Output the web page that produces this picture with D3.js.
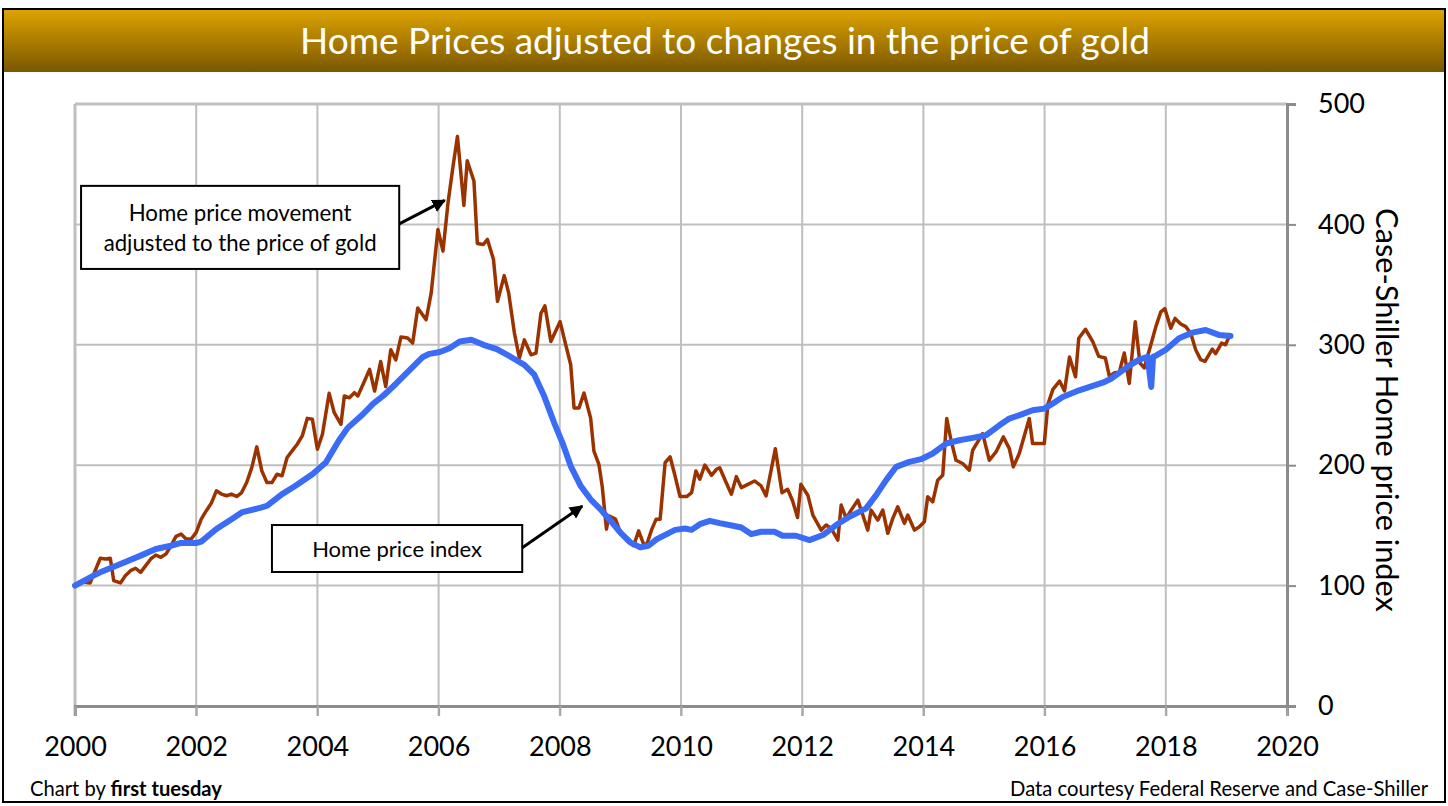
<!DOCTYPE html>
<html><head><meta charset="utf-8">
<script src="https://cdn.jsdelivr.net/npm/d3@7"></script>
<style>html,body{margin:0;padding:0;background:#fff;}svg{display:block;}</style>
</head><body>
<svg id="chart" width="1448" height="806"></svg>
<script>
// ---------- DATA ----------
const titleText = "Home Prices adjusted to changes in the price of gold";
const yAxisTitle = "Case-Shiller Home price index";
const creditLeftPlain = "Chart by ";
const creditLeftBold = "first tuesday";
const creditRight = "Data courtesy Federal Reserve and Case-Shiller";
const xTickYears = [2000, 2002, 2004, 2006, 2008, 2010, 2012, 2014, 2016, 2018, 2020];
const yTickValues = [0, 100, 200, 300, 400, 500];

// Home price movement adjusted to the price of gold (date in decimal years, value)
const goldAdjDates = [2000.0,2000.083,2000.25,2000.417,2000.5,2000.583,2000.639,2000.75,2000.833,2000.917,2001.0,2001.083,2001.167,2001.25,2001.333,2001.417,2001.5,2001.583,2001.667,2001.75,2001.833,2001.917,2002.0,2002.083,2002.167,2002.25,2002.333,2002.417,2002.5,2002.583,2002.667,2002.75,2002.833,2002.917,2003.0,2003.083,2003.167,2003.25,2003.333,2003.417,2003.5,2003.583,2003.667,2003.75,2003.833,2003.917,2004.0,2004.083,2004.194,2004.278,2004.389,2004.444,2004.528,2004.611,2004.667,2004.778,2004.861,2004.944,
2005.044,2005.128,2005.211,2005.294,2005.378,2005.489,2005.572,2005.656,2005.794,2005.878,2005.989,2006.072,2006.156,2006.239,2006.311,2006.417,2006.472,2006.583,2006.639,2006.739,2006.806,2006.906,2006.972,2007.083,2007.156,
2007.251,2007.333,2007.415,2007.525,2007.607,2007.689,2007.754,2007.852,2008.005,2008.098,2008.18,2008.235,2008.317,2008.399,2008.508,2008.563,2008.645,2008.699,2008.77,2008.809,2008.918,2009.0,2009.109,2009.219,2009.301,2009.383,2009.437,2009.519,2009.59,2009.656,2009.738,2009.82,2009.902,2009.984,2010.093,2010.175,2010.246,2010.311,2010.393,2010.503,2010.585,2010.639,2010.721,2010.831,2010.913,2010.995,2011.104,2011.213,2011.322,2011.404,2011.557,2011.667,2011.76,2011.842,2011.923,2011.978,
2012.093,2012.176,2012.313,2012.396,2012.478,2012.588,2012.643,2012.725,2012.808,2012.918,2013.0,2013.082,2013.137,2013.247,2013.33,2013.412,2013.495,2013.577,2013.687,2013.742,2013.852,2013.934,2014.016,2014.071,2014.154,2014.236,2014.319,2014.385,2014.456,2014.538,2014.648,2014.758,2014.813,2014.896,2014.978,2015.088,2015.198,2015.319,2015.418,2015.484,2015.582,2015.747,2015.802,2015.995,
2016.055,2016.137,2016.247,2016.329,2016.411,2016.51,2016.564,2016.674,2016.795,2016.893,2017.003,2017.068,2017.151,2017.233,2017.315,2017.397,2017.496,2017.573,2017.644,2017.699,2017.753,2017.836,2017.918,2017.984,2018.082,2018.153,2018.247,2018.329,2018.411,2018.493,2018.575,2018.647,2018.767,2018.822,2018.921,2018.986,2019.068];
const goldAdjValues = [100,103.3,102.2,122.7,122.1,122.7,104.1,102.2,108.3,112.4,114.4,111,116.6,122.1,125.4,123.5,126.2,133.1,140.9,142.8,138.7,138.7,144.2,155.2,162.2,168.5,178.7,176,174.6,176,174,177.3,185.6,198,215.2,195.3,185.6,185.6,192.5,191.2,206.4,211.9,217.4,224.3,238.9,238.1,213.3,225.7,259.7,243.6,234,257.5,256,260.2,257.5,270,279.6,261.6,
286.1,265.3,295.8,287.5,306.4,305.6,301.4,330.6,320.8,343.1,395.8,377.8,418.1,448.6,473.1,415.8,452.8,436.1,384.2,383.3,387.5,370.8,336.1,357.5,343.1,
309.7,289,304.1,291.7,293.1,326.2,332.3,302.8,319.3,300,283.4,247.6,247.6,260,239.3,211.7,200.7,182.8,146.9,157.9,155.2,144.1,137.2,133.1,145.5,134.5,134.5,146.9,155.2,155.2,202.1,207,191,173.9,173.9,177.2,195.2,188.3,200.1,191.6,196.6,197.9,188.3,175.9,190.5,181.4,184.1,186.9,182.8,174.5,213.7,177.2,180,170.3,156.6,184.1,
175.1,158.6,146.1,150.3,147.5,137.8,166.9,155.8,162.7,171,158.6,146.1,162.7,154.4,162.7,143.4,155.8,165.5,151.7,158.6,146.1,148.9,153,173.8,169.6,187.6,191.7,238.7,220.7,204.1,201.4,195.9,212.4,219.3,226.2,204.1,211,223.5,213.8,198.6,209.7,238.7,218,218,
250.7,263,269.9,261.6,289.9,273.4,305.5,312.9,302.7,290.4,289,274,276.7,277.3,293.2,267.9,319.2,284.9,280.8,290.4,300,315.1,327.4,330.1,313.7,321.9,317.3,315.1,309.6,295.9,287.7,286.3,296.4,292.6,301.4,300,309.6];

// Case-Shiller home price index (Jan 2000 = 100)
const hpiDates = [2000.0,2000.306,2000.417,2000.75,2001.083,2001.333,2001.583,2001.75,2002.0,2002.083,2002.333,2002.583,2002.75,2003.083,2003.167,2003.417,2003.639,2003.917,2004.139,2004.36,2004.5,2004.75,2004.917,2005.083,
2005.31,2005.5,2005.74,2005.85,2006.02,2006.18,2006.35,2006.54,2006.74,2006.96,2007.18,
2007.415,2007.579,2007.743,2007.907,2008.044,2008.18,2008.344,2008.508,2008.672,2008.836,2009.0,2009.164,2009.328,2009.464,2009.601,2009.765,2009.902,2010.066,2010.175,2010.311,2010.475,2010.639,2010.858,2010.995,2011.158,2011.322,2011.541,2011.678,2011.896,
2012.121,2012.341,2012.56,2012.78,2013.055,2013.22,2013.385,2013.55,2013.769,2013.962,2014.154,2014.374,2014.593,2014.813,2015.033,2015.253,2015.418,2015.61,2015.802,2015.995,2016.132,2016.297,2016.571,
2016.795,2016.959,2017.096,2017.233,2017.397,2017.562,2017.70,2017.76,2017.79,2017.836,2018.0,2018.219,2018.438,2018.658,2018.877,2019.068];
const hpiValues = [100,108.3,111,118,124.9,130.4,133.1,135.4,135.4,136.5,147,155.2,160.8,164.9,166.3,176,182.9,192.5,202.2,221,231,242.3,251,257.5,
268.3,278,289.9,292.5,294,297.2,302.8,304.2,300,296.4,290.3,
283.4,275.2,257.2,235.2,218.6,199.3,182.8,171.7,163.4,153.8,144.1,135.9,131.7,133.1,138.6,142.8,146.3,147.4,146.3,151,153.8,151.9,149.7,148.3,142.8,144.7,144.7,141.4,141.4,
137.8,142,150.3,157.2,164.1,175.1,187.6,198.6,202.8,205,209.7,218,220.7,222.7,224.9,233.1,238.7,242,245.6,247,251.1,256.6,262.2,
265.8,268.5,271.8,276.7,282.7,287.7,290,265,290,291,295.9,305.5,310.1,312.3,308.2,307.4];

// Annotation call-outs
const noteGoldLines = ["Home price movement", "adjusted to the price of gold"];
const noteHpiLines = ["Home price index"];

// ---------- LAYOUT ----------
const W = 1448, H = 806;
const plot = {left: 75, right: 1287, top: 104, bottom: 706};
const notes = [
  {lines: noteGoldLines, x0: 2000.1, x1: 2005.35, y0: 432, y1: 363, widths: [223, 273],
   arrowFrom: [2005.35, 400.5], arrowTo: [2006.1, 420]},
  {lines: noteHpiLines, x0: 2003.25, x1: 2007.38, y0: 150.3, y1: 111.3, widths: [170],
   arrowFrom: [2007.38, 131.5], arrowTo: [2008.37, 166]}
];
const FONT = "Lato, 'Open Sans', 'Liberation Sans', sans-serif";

const svg = d3.select("#chart");
const defs = svg.append("defs");
const grad = defs.append("linearGradient").attr("id", "titleGrad")
  .attr("x1", 0).attr("y1", 0).attr("x2", 0).attr("y2", 1);
grad.append("stop").attr("offset", "0%").attr("stop-color", "#dea400");
grad.append("stop").attr("offset", "100%").attr("stop-color", "#7a5700");
defs.append("marker").attr("id", "arrowHead")
  .attr("viewBox", "0 0 10 10").attr("refX", 9).attr("refY", 5)
  .attr("markerWidth", 4.5).attr("markerHeight", 4.5).attr("orient", "auto")
  .append("path").attr("d", "M0,0 L10,5 L0,10 z").attr("fill", "#000");

svg.append("rect").attr("width", W).attr("height", H).attr("fill", "#fff");

function fitWidth(sel, target) {
  const len = sel.node().getComputedTextLength();
  const fs = parseFloat(sel.attr("font-size"));
  if (len > 0) sel.attr("font-size", (fs * target / len).toFixed(2));
  return sel;
}

// title bar
svg.append("rect").attr("x", 3).attr("y", 9).attr("width", 1442).attr("height", 63)
  .attr("fill", "url(#titleGrad)");
const title = svg.append("text").attr("x", 725).attr("y", 54).attr("text-anchor", "middle")
  .attr("font-family", FONT).attr("font-size", 36).attr("fill", "#fff").text(titleText);
fitWidth(title, 850);

// scales
const x = d3.scaleLinear().domain([2000, 2020]).range([plot.left, plot.right]);
const y = d3.scaleLinear().domain([0, 500]).range([plot.bottom, plot.top]);

// grid
const g = svg.append("g");
g.selectAll("line.hgrid").data(yTickValues.filter(v => v > 0)).join("line")
  .attr("x1", plot.left).attr("x2", plot.right)
  .attr("y1", d => y(d)).attr("y2", d => y(d))
  .attr("stroke", "#bfbfbf").attr("stroke-width", d => d === 500 ? 3 : 2);
g.selectAll("line.vgrid").data(xTickYears.filter(v => v < 2020)).join("line")
  .attr("x1", d => x(d)).attr("x2", d => x(d))
  .attr("y1", plot.top).attr("y2", plot.bottom + 10)
  .attr("stroke", "#bfbfbf").attr("stroke-width", d => d === 2000 ? 3 : 2);

// bottom axis
const xAxis = d3.axisBottom(x).tickValues(xTickYears).tickFormat(d3.format("d"))
  .tickSize(10).tickPadding(21);
const gx = svg.append("g").attr("transform", `translate(0,${plot.bottom})`).call(xAxis);
gx.select(".domain").attr("stroke", "#8c8c8c").attr("stroke-width", 3);
gx.selectAll(".tick line").attr("stroke", "#a6a6a6").attr("stroke-width", 2);
gx.selectAll(".tick text").attr("font-family", FONT).attr("font-size", 27)
  .attr("fill", "#000").attr("dy", "0.71em");

// right axis
const yAxis = d3.axisRight(y).tickValues(yTickValues).tickSize(9).tickPadding(22);
const gy = svg.append("g").attr("transform", `translate(${plot.right},0)`).call(yAxis);
gy.select(".domain").attr("stroke", "#8c8c8c").attr("stroke-width", 3);
gy.selectAll(".tick line").attr("stroke", "#8c8c8c").attr("stroke-width", 2);
gy.selectAll(".tick text").attr("font-family", FONT).attr("font-size", 27).attr("fill", "#000");

// axis title
const yt = svg.append("text")
  .attr("transform", `translate(1387,${(plot.top + plot.bottom) / 2 + 5}) rotate(90)`)
  .attr("text-anchor", "middle").attr("dominant-baseline", "central")
  .attr("font-family", FONT).attr("font-size", 26).attr("fill", "#000").text(yAxisTitle);
fitWidth(yt, 404);

// lines
const goldData = goldAdjDates.map((d, i) => [d, goldAdjValues[i]]);
const hpiData = hpiDates.map((d, i) => [d, hpiValues[i]]);
const line = d3.line().x(d => x(d[0])).y(d => y(d[1]));
svg.append("path").datum(goldData).attr("d", line).attr("fill", "none")
  .attr("stroke", "#9a3300").attr("stroke-width", 3.5).attr("stroke-linejoin", "round");
svg.append("path").datum(hpiData).attr("d", line).attr("fill", "none")
  .attr("stroke", "#3a6cf6").attr("stroke-width", 6).attr("stroke-linejoin", "round")
  .attr("stroke-linecap", "round");

// annotations
notes.forEach(n => {
  const bx = x(n.x0), by = y(n.y0), bw = x(n.x1) - x(n.x0), bh = y(n.y1) - y(n.y0);
  svg.append("rect").attr("x", bx).attr("y", by).attr("width", bw).attr("height", bh)
    .attr("fill", "#fff").attr("stroke", "#000").attr("stroke-width", 2);
  const lh = 30;
  const startY = by + bh / 2 - (n.lines.length - 1) * lh / 2;
  n.lines.forEach((t, i) => {
    const tx = svg.append("text").attr("x", bx + bw / 2).attr("y", startY + i * lh)
      .attr("text-anchor", "middle").attr("dominant-baseline", "central")
      .attr("font-family", FONT).attr("font-size", 20).attr("fill", "#000").text(t);
    fitWidth(tx, n.widths[i]);
  });
  svg.append("line")
    .attr("x1", x(n.arrowFrom[0])).attr("y1", y(n.arrowFrom[1]))
    .attr("x2", x(n.arrowTo[0])).attr("y2", y(n.arrowTo[1]))
    .attr("stroke", "#000").attr("stroke-width", 3).attr("marker-end", "url(#arrowHead)");
});

// credits
const cl = svg.append("text").attr("x", 30).attr("y", 796)
  .attr("font-family", FONT).attr("font-size", 19).attr("fill", "#000");
cl.append("tspan").text(creditLeftPlain);
cl.append("tspan").attr("font-weight", "bold").text(creditLeftBold);
fitWidth(cl, 192);
const cr = svg.append("text").attr("x", 1428).attr("y", 796).attr("text-anchor", "end")
  .attr("font-family", FONT).attr("font-size", 19).attr("fill", "#000").text(creditRight);
fitWidth(cr, 418);

// outer frame
svg.append("rect").attr("x", 3).attr("y", 9).attr("width", 1442).attr("height", 793)
  .attr("fill", "none").attr("stroke", "#000").attr("stroke-width", 2);
</script>
</body></html>
